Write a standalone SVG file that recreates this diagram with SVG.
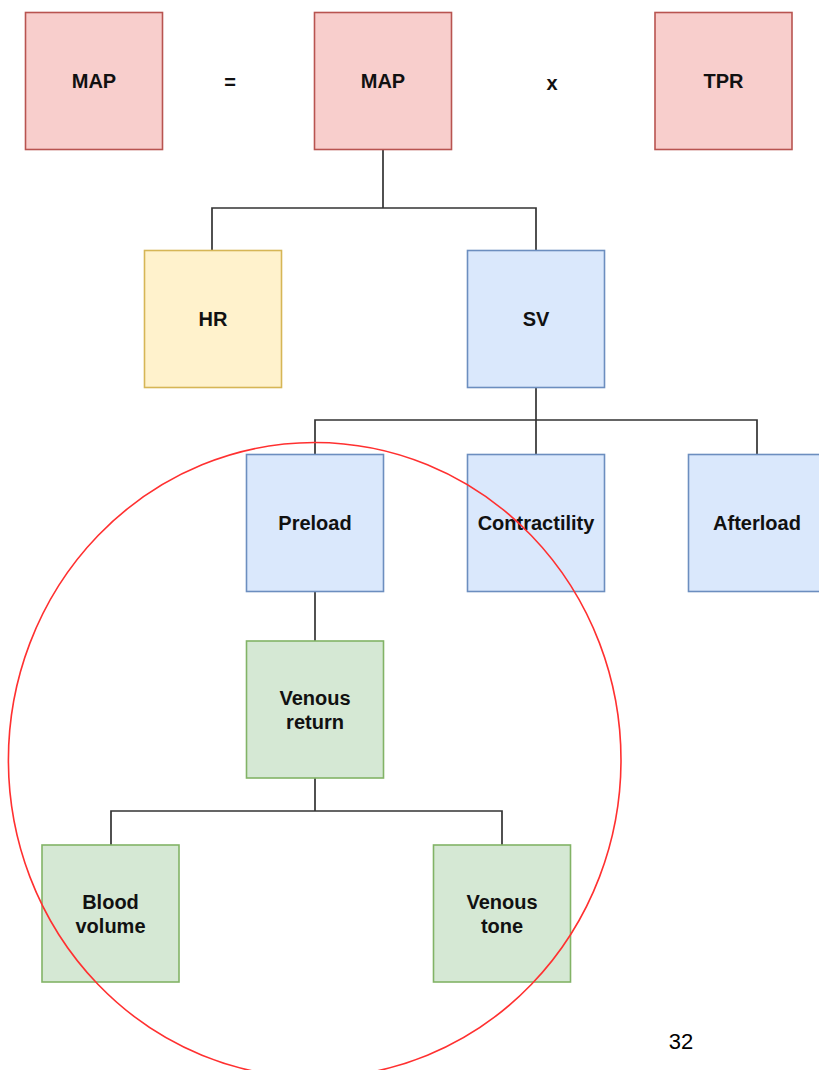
<svg xmlns="http://www.w3.org/2000/svg" width="819" height="1070" viewBox="0 0 819 1070">
  <style>
    .box { stroke-width: 1.6; }
    .red { fill: #f8cecc; stroke: #b85450; }
    .yellow { fill: #fff2cc; stroke: #d6b656; }
    .blue { fill: #dae8fc; stroke: #6c8ebf; }
    .green { fill: #d5e8d4; stroke: #82b366; }
    .lbl { font-family: "Liberation Sans", Arial, Helvetica, sans-serif; font-weight: bold; font-size: 20px; fill: #111; text-anchor: middle; }
    .wire { fill: none; stroke: #333; stroke-width: 1.7; }
    .page { font-family: "Liberation Sans", Arial, sans-serif; font-size: 22px; fill: #000; text-anchor: middle; }
  </style>
  <rect width="819" height="1070" fill="#ffffff"/>

  <!-- tree connectors -->
  <g id="connectors">
    <path class="wire" d="M383 149 V208 M212 250 V208 H536 V250"/>
    <path class="wire" d="M536 387 V454 M315 454 V420 H757 V454"/>
    <path class="wire" d="M315 591 V641"/>
    <path class="wire" d="M315 778 V811 M111 845 V811 H502 V845"/>
  </g>

  <!-- top equation row -->
  <g id="map-left">
    <rect class="box red" x="25.5" y="12.5" width="137" height="137"/>
    <text class="lbl" x="94" y="88">MAP</text>
  </g>
  <g id="equals">
    <text class="lbl" x="230" y="89">=</text>
  </g>
  <g id="map-right">
    <rect class="box red" x="314.5" y="12.5" width="137" height="137"/>
    <text class="lbl" x="383" y="88">MAP</text>
  </g>
  <g id="times">
    <text class="lbl" x="552" y="90">x</text>
  </g>
  <g id="tpr">
    <rect class="box red" x="655" y="12.5" width="137" height="137"/>
    <text class="lbl" x="723.5" y="88">TPR</text>
  </g>

  <!-- second row -->
  <g id="hr">
    <rect class="box yellow" x="144.5" y="250.5" width="137" height="137"/>
    <text class="lbl" x="213" y="326">HR</text>
  </g>
  <g id="sv">
    <rect class="box blue" x="467.5" y="250.5" width="137" height="137"/>
    <text class="lbl" x="536" y="326">SV</text>
  </g>

  <!-- third row -->
  <g id="preload">
    <rect class="box blue" x="246.5" y="454.5" width="137" height="137"/>
    <text class="lbl" x="315" y="530">Preload</text>
  </g>
  <g id="contractility">
    <rect class="box blue" x="467.5" y="454.5" width="137" height="137"/>
    <text class="lbl" x="536" y="530">Contractility</text>
  </g>
  <g id="afterload">
    <rect class="box blue" x="688.5" y="454.5" width="137" height="137"/>
    <text class="lbl" x="757" y="530">Afterload</text>
  </g>

  <!-- venous return branch -->
  <g id="venous-return">
    <rect class="box green" x="246.5" y="641" width="137" height="137"/>
    <text class="lbl" x="315" y="705">Venous</text>
    <text class="lbl" x="315" y="729">return</text>
  </g>
  <g id="blood-volume">
    <rect class="box green" x="42" y="845" width="137" height="137"/>
    <text class="lbl" x="110.5" y="909">Blood</text>
    <text class="lbl" x="110.5" y="933">volume</text>
  </g>
  <g id="venous-tone">
    <rect class="box green" x="433.5" y="845" width="137" height="137"/>
    <text class="lbl" x="502" y="909">Venous</text>
    <text class="lbl" x="502" y="933">tone</text>
  </g>

  <!-- highlight ring around the preload branch -->
  <g id="highlight">
    <ellipse cx="314.7" cy="760" rx="306.3" ry="317.5" fill="none" stroke="#ff3030" stroke-width="1.6"/>
  </g>

  <g id="page-number">
    <text class="page" x="681" y="1049">32</text>
  </g>
</svg>
